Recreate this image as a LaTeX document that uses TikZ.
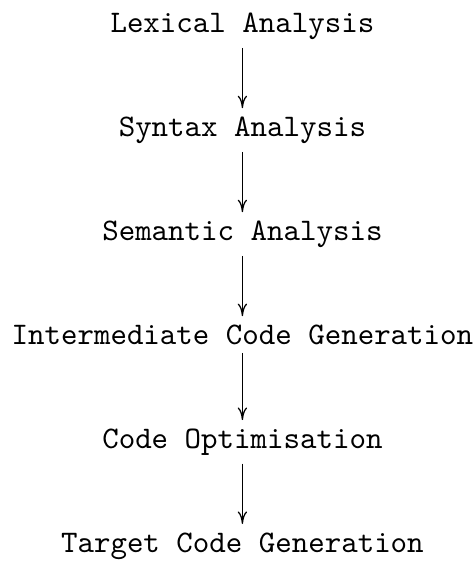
\documentclass[tikz,border=0pt]{standalone}
\usetikzlibrary{arrows.meta}

\begin{document}
\begin{tikzpicture}[phase/.style={font=\ttfamily, anchor=base, inner ysep=2.5pt},
                    flow/.style={-{To[length=4pt, width=3pt]}}]
  \useasboundingbox (-77.2pt,10.3pt) rectangle (73.8pt,-169pt);
  \node [phase] (lex) at (0,0) {Lexical Analysis};
  \node [phase] (syn) at (0,-33.1pt) {Syntax Analysis};
  \node [phase] (sem) at (0,-66.2pt) {Semantic Analysis};
  \node [phase] (icg) at (0,-99.3pt) {Intermediate Code Generation};
  \node [phase] (opt) at (0,-132.4pt) {Code Optimisation};
  \node [phase] (tcg) at (0,-165.5pt) {Target Code Generation};
  % one arrow between each pair of phases
  \draw [flow] (lex) -- (syn);
  \draw [flow] (syn) -- (sem);
  \draw [flow] (sem) -- (icg);
  \draw [flow] (icg) -- (opt);
  \draw [flow] (opt) -- (tcg);
\end{tikzpicture}
\end{document}
